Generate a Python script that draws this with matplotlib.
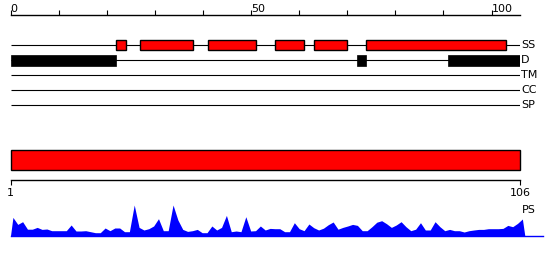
import matplotlib
matplotlib.use('Agg')
import matplotlib.pyplot as plt
import numpy as np

plt.rcParams['font.family'] = ['DejaVu Sans']

# ---------------- data ----------------
seq_len = 106
tracks = ["SS", "D", "TM", "CC", "SP"]
ss_starts = [22, 27, 41, 55, 63, 74]
ss_ends = [24, 38, 51, 61, 70, 103]
d_starts = [0, 72, 91]
d_ends = [22, 74, 106]
top_ticks = list(range(0, 101, 10))
top_tick_labels = ["0", "", "", "", "", "50", "", "", "", "", "100"]
bottom_ticks = [1, 106]
bottom_tick_labels = ["1", "106"]
ps_values = [
    18.3, 11.3, 14.0, 6.5, 6.5, 8.3, 6.3, 6.7, 5.0, 5.0,
    5.0, 5.0, 10.7, 4.7, 4.7, 5.0, 4.0, 3.0, 3.0, 7.7,
    5.0, 7.7, 7.7, 4.0, 4.0, 30.7, 8.3, 5.7, 7.0, 9.7,
    17.0, 5.0, 5.0, 30.7, 15.7, 6.3, 4.3, 5.0, 6.3, 3.0,
    3.0, 9.7, 5.7, 8.3, 20.3, 4.0, 4.7, 4.0, 19.0, 4.7,
    5.0, 9.7, 5.7, 7.3, 7.0, 7.0, 4.0, 4.0, 13.0, 7.0,
    5.0, 11.7, 8.0, 5.7, 7.5, 11.0, 13.7, 6.5, 8.3, 9.7,
    11.3, 10.3, 5.0, 5.0, 9.0, 13.5, 15.0, 12.0, 8.3, 10.7,
    14.0, 9.0, 5.0, 6.5, 13.0, 5.7, 5.7, 14.0, 9.0, 5.0,
    6.3, 5.0, 5.0, 3.7, 5.0, 5.7, 6.3, 6.3, 7.0, 7.0,
    7.0, 7.3, 10.3, 9.0, 12.3, 16.7,
]

RED = '#ff0000'
BLUE = '#0000ff'

W, H = 550, 260
fig = plt.figure(figsize=(W / 100, H / 100), dpi=100)


def axes_px(x0, y0, x1, y1):
    return fig.add_axes([x0 / W, 1 - y1 / H, (x1 - x0) / W, (y1 - y0) / H])


# ---------------- top feature panel ----------------
ax = axes_px(10.5, 14.7, 520.4, 110)
ax.set_xlim(0, seq_len)
ax.set_ylim(4.33, -2.02)
for s in ['left', 'right', 'bottom']:
    ax.spines[s].set_visible(False)
ax.spines['top'].set_linewidth(1.0)
ax.set_yticks([])
ax.xaxis.tick_top()
ax.set_xticks(top_ticks)
ax.set_xticklabels(top_tick_labels, ha='left', fontsize=8)
ax.tick_params(axis='x', direction='out', length=3.5, width=0.8, pad=-3.0)

ax.hlines(range(len(tracks)), 0, seq_len, color='black', lw=0.8, zorder=1)
ss_row = tracks.index("SS")
d_row = tracks.index("D")
ax.barh([ss_row] * len(ss_starts), np.array(ss_ends) - np.array(ss_starts),
        left=ss_starts, height=0.69, color=RED, edgecolor='black', lw=1.0, zorder=2)
ax.barh([d_row] * len(d_starts), np.array(d_ends) - np.array(d_starts),
        left=d_starts, height=0.73, color='black', edgecolor='black', lw=0.5, zorder=2)
for i, name in enumerate(tracks):
    ax.text(seq_len + 0.1, i, name, va='center', ha='left', fontsize=8, clip_on=False)

# ---------------- red bar with bottom ruler ----------------
ax2 = axes_px(10.5, 150, 520, 180.3)
ax2.set_xlim(1, seq_len)
ax2.set_ylim(0, 1)
for s in ['left', 'right', 'top']:
    ax2.spines[s].set_visible(False)
ax2.spines['bottom'].set_linewidth(1.0)
ax2.set_yticks([])
ax2.set_xticks(bottom_ticks)
ax2.set_xticklabels(bottom_tick_labels, fontsize=8)
ax2.tick_params(axis='x', direction='out', length=3.5, width=0.8, pad=2)
ax2.barh([0.665], [seq_len - 1], left=[1], height=0.67, color=RED,
         edgecolor='black', lw=1.0, clip_on=False)

# ---------------- PS profile ----------------
x_end = 1 + (543 - 10.5) / 4.852
ax3 = axes_px(10.5, 200, 543, 235.7)
ax3.set_xlim(1, x_end)
ax3.set_ylim(0, 35.7)
ax3.axis('off')
xs = np.concatenate([[1], np.arange(1, seq_len + 1) + 0.5, [seq_len + 1]])
ys = np.concatenate([[0], ps_values, [0]])
ax3.fill_between(xs, 0, ys, color=BLUE, lw=0)
ax3.plot([1, x_end], [0, 0], color=BLUE, lw=1.0, clip_on=False)
ax3.text(106.4, 25.7, "PS", va='center', ha='left', fontsize=8, clip_on=False)

fig.savefig('out.png', dpi=100)
